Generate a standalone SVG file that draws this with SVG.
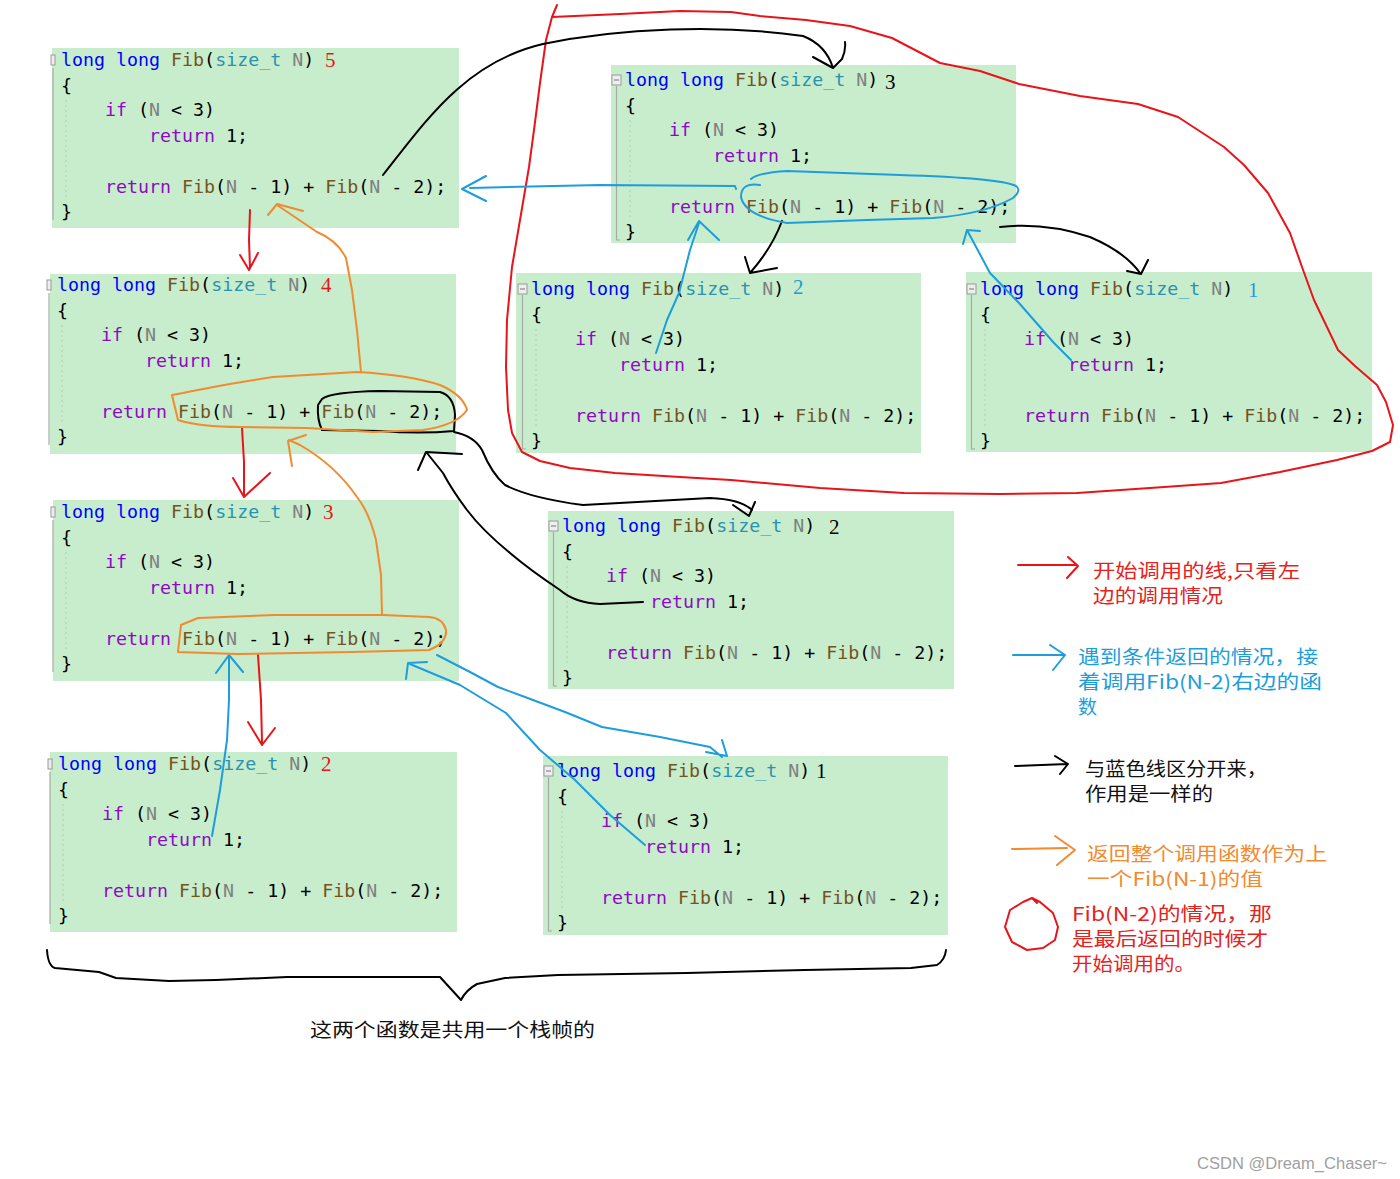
<svg xmlns="http://www.w3.org/2000/svg" xmlns:xlink="http://www.w3.org/1999/xlink" width="1400" height="1179" viewBox="0 0 1400 1179">
<style>
.box{fill:#c7edcc}
.code text{font-family:"DejaVu Sans Mono","Liberation Mono",monospace;font-size:18.3px;fill:#000;white-space:pre}
.kw{fill:#0000ff}.fn{fill:#74531f}.ty{fill:#2b91af}.pm{fill:#808080}.ct{fill:#8f08c4}
.num{font-family:"Liberation Serif",serif;font-size:21px}
.gut{stroke:#a8a8a8;stroke-width:1.2;fill:none}
.guide{stroke:#b8c8b8;stroke-width:1;stroke-dasharray:2 3;fill:none}
.fold{fill:#eeeeee;stroke:#9a9a9a;stroke-width:1}
.hd{fill:none;stroke-width:2;stroke-linecap:round;stroke-linejoin:round}
.r{stroke:#e8141a}.b{stroke:#1e9ddc}.k{stroke:#000}.o{stroke:#f28a30}
.lg{font-family:"Noto Sans CJK SC","Noto Sans",sans-serif;font-size:19px}
</style>
<defs>
<g id="code" class="code">
<text x="0" y="6"><tspan class="kw">long long</tspan> <tspan class="fn">Fib</tspan>(<tspan class="ty">size_t</tspan> <tspan class="pm">N</tspan>)</text>
<text x="0" y="31.5">{</text>
<text x="44" y="56"><tspan class="ct">if</tspan> (<tspan class="pm">N</tspan> &lt; 3)</text>
<text x="88" y="82"><tspan class="ct">return</tspan> 1;</text>
<text x="44" y="132.5"><tspan class="ct">return</tspan> <tspan class="fn">Fib</tspan>(<tspan class="pm">N</tspan> - 1) + <tspan class="fn">Fib</tspan>(<tspan class="pm">N</tspan> - 2);</text>
<text x="0" y="158">}</text>
<path class="guide" d="M5,40 V140"/>
</g>
<g id="gutter">
<rect class="fold" x="-13" y="-5" width="9" height="10"/>
<path d="M-11,0 H-6" stroke="#777" stroke-width="1"/>
<path class="gut" d="M-8.5,6 V160 H-5"/>
</g>
<g id="gutter2">
<rect class="fold" x="-10" y="-5" width="4" height="10"/>
<path class="gut" d="M-8,8 V160"/>
</g>
</defs>
<rect width="1400" height="1179" fill="#ffffff"/>

<g id="node-fib5">
<rect class="box" x="52" y="48" width="407" height="180"/>
<g transform="translate(61,60)"><use xlink:href="#gutter2"/><use xlink:href="#code"/><text class="num" x="264" y="7" fill="#e8141a">5</text></g>
</g>
<g id="node-fib4">
<rect class="box" x="50" y="274" width="406" height="180"/>
<g transform="translate(57,285)"><use xlink:href="#gutter2"/><use xlink:href="#code"/><text class="num" x="264" y="7" fill="#e8141a">4</text></g>
</g>
<g id="node-fib3-left">
<rect class="box" x="53" y="500" width="406" height="181"/>
<g transform="translate(61,512)"><use xlink:href="#gutter2"/><use xlink:href="#code"/><text class="num" x="262" y="7" fill="#e8141a">3</text></g>
</g>
<g id="node-fib2-left">
<rect class="box" x="50" y="752" width="407" height="180"/>
<g transform="translate(58,764)"><use xlink:href="#gutter2"/><use xlink:href="#code"/><text class="num" x="263" y="7" fill="#e8141a">2</text></g>
</g>
<g id="node-fib3-top">
<rect class="box" x="611" y="65" width="405" height="178"/>
<g transform="translate(625,80)"><use xlink:href="#gutter"/><use xlink:href="#code"/><text class="num" x="260" y="9" fill="#000">3</text></g>
</g>
<g id="node-fib2-top">
<rect class="box" x="516" y="273" width="405" height="180"/>
<g transform="translate(531,289)"><use xlink:href="#gutter"/><use xlink:href="#code"/><text class="num" x="262" y="5" fill="#1f9ad6">2</text></g>
</g>
<g id="node-fib1-top">
<rect class="box" x="966" y="272" width="406" height="180"/>
<g transform="translate(980,289)"><use xlink:href="#gutter"/><use xlink:href="#code"/><text class="num" x="268" y="8" fill="#1f9ad6">1</text></g>
</g>
<g id="node-fib2-mid">
<rect class="box" x="548" y="511" width="406" height="178"/>
<g transform="translate(562,526)"><use xlink:href="#gutter"/><use xlink:href="#code"/><text class="num" x="267" y="8" fill="#000">2</text></g>
</g>
<g id="node-fib1-bottom">
<rect class="box" x="543" y="756" width="405" height="179"/>
<g transform="translate(557,771)"><use xlink:href="#gutter"/><use xlink:href="#code"/><text class="num" x="259" y="7" fill="#000">1</text></g>
</g>

<g id="connectors">
<!-- red loop around the N-2 subtree -->
<path class="hd r" d="M557,5 L552,17 L546,40 L540,83 L534,130 L529,167 L520,220 L512,267 L507,320 L506,367 L508,410 L512,433 L522,452 L540,461 L570,468 L615,473 L680,477 L731,480 L820,488 L904,493 L1000,494 L1077,493 L1150,488 L1221,483 L1280,472 L1337,460 L1372,451 L1390,442 L1393,425 L1386,402 L1377,385 L1355,366 L1338,350 L1326,325 L1314,300 L1302,267 L1290,233 L1268,193 L1244,165 L1224,147 L1178,117 L1138,104 L1080,96 L1019,84 L980,71 L940,63 L892,38 L850,26 L806,20 L760,16 L731,12 L680,11 L620,14 L552,17"/>
<!-- red call arrows -->
<path class="hd r" d="M250,210 L249,240 L250,268 M240,255 L249,270 L258,253"/>
<path class="hd r" d="M242,428 L244,462 L244,495 M233,478 L244,497 L270,473"/>
<path class="hd r" d="M258,655 L261,700 L262,743 M248,722 L262,745 L275,728"/>
<!-- black arrows -->
<path class="hd k" d="M383,175 C425,122 465,62 543,44 C620,28 720,24 803,36 Q826,45 833,68 M813,57 L833,68 L842,59 Q846,50 845,42"/>
<path class="hd k" d="M782,221 Q772,248 750,273 M745,257 L750,273 L777,268"/>
<path class="hd k" d="M1000,227 Q1045,222 1090,237 Q1125,252 1140,273 M1127,271 L1141,274 L1148,260"/>
<path class="hd k" d="M322,399 Q330,392 380,391 L440,392 Q454,396 455,415 L454,431 Q420,434 380,431 L322,430 Q317,420 318,405 Z"/>
<path class="hd k" d="M454,432 Q474,436 482,450 Q492,474 505,485 Q530,498 583,505 Q640,502 710,498 Q740,499 752,510 M733,505 L749,516 L755,502"/>
<path class="hd k" d="M643,602 L600,604 Q575,603 560,590 Q530,570 510,553 Q482,530 467,510 Q452,490 443,473 L427,453 M418,470 L426,452 L462,454"/>
<path class="hd k" d="M47,950 Q48,966 55,968 L99,972 L116,978 L169,981 L216,980 L287,977 L440,977 L461,1000 Q466,990 477,984 L505,978 L558,975 L687,973 L805,970 L911,968 L937,965 Q945,960 946,950"/>
<!-- blue arrows -->
<path class="hd b" d="M760,185 Q741,182 741,197 Q745,216 787,223 L867,220 L933,218 Q985,214 1013,198 Q1022,190 1016,186 Q1000,178 900,175 L787,171 Q757,173 751,179"/>
<path class="hd b" d="M736,189 L735,186 L600,185 L470,188 M486,176 L462,189 L486,201"/>
<path class="hd b" d="M656,353 L667,320 L679,293 L690,250 L699,223 M688,240 L699,221 L719,240"/>
<path class="hd b" d="M1071,360 L1054,343 L1019,303 L990,273 L967,230 M963,244 L967,230 L980,231"/>
<path class="hd b" d="M212,836 L220,790 L227,740 L229,700 L229,657 M216,673 L229,655 L243,672"/>
<path class="hd b" d="M645,845 L610,815 L575,780 L540,750 L506,713 L460,685 L410,664 M406,679 L408,663 L427,662"/>
<path class="hd b" d="M437,655 L470,672 L498,687 L525,697 L565,712 L602,727 L660,737 L710,747 L722,757 M706,752 L727,756 L722,740"/>
<!-- orange -->
<path class="hd o" d="M172,395 L178,420 Q200,427 240,427 L307,428 L373,432 L423,430 Q457,425 467,410 Q463,395 440,385 Q410,375 357,372 L273,377 Q215,386 183,393 Z"/>
<path class="hd o" d="M361,372 L357,330 L352,290 L346,258 Q337,240 317,232 L277,205 M268,215 L277,204 L303,211"/>
<path class="hd o" d="M181,625 L178,652 L237,654 L352,652 L429,650 Q447,643 446,630 Q443,618 429,617 L383,615 L275,615 L198,618 Z"/>
<path class="hd o" d="M382,615 L381,575 L376,540 Q369,512 357,497 Q335,465 300,445 L289,440 M292,466 L288,441 L306,435"/>
<!-- legend markers -->
<path class="hd r" d="M1018,565 L1077,565 M1068,557 L1078,566 L1067,578"/>
<path class="hd b" d="M1013,655 L1063,655 M1050,645 L1065,655 L1053,670"/>
<path class="hd k" d="M1015,766 L1067,764 M1055,756 L1068,764 L1060,774"/>
<path class="hd o" d="M1012,849 L1067,848 M1055,836 L1075,850 L1057,865"/>
<path class="hd r" d="M1032,898 L1040,902 L1053,913 L1058,927 L1055,940 L1043,948 L1027,950 L1012,942 L1005,927 L1010,910 L1023,902 L1032,898 L1037,903"/>
</g>

<g id="legend">
<text class="lg" fill="#e5231d" x="1093" y="578" textLength="207" lengthAdjust="spacingAndGlyphs">开始调用的线,只看左</text>
<text class="lg" fill="#e5231d" x="1093" y="603" textLength="130" lengthAdjust="spacingAndGlyphs">边的调用情况</text>
<text class="lg" fill="#1e9ddc" x="1078" y="664" textLength="240" lengthAdjust="spacingAndGlyphs">遇到条件返回的情况，接</text>
<text class="lg" fill="#1e9ddc" x="1078" y="689" textLength="244" lengthAdjust="spacingAndGlyphs">着调用Fib(N-2)右边的函</text>
<text class="lg" fill="#1e9ddc" x="1078" y="714">数</text>
<text class="lg" fill="#111" x="1085" y="776" textLength="182" lengthAdjust="spacingAndGlyphs">与蓝色线区分开来，</text>
<text class="lg" fill="#111" x="1085" y="801" textLength="128" lengthAdjust="spacingAndGlyphs">作用是一样的</text>
<text class="lg" fill="#f28a30" x="1087" y="861" textLength="240" lengthAdjust="spacingAndGlyphs">返回整个调用函数作为上</text>
<text class="lg" fill="#f28a30" x="1087" y="886" textLength="176" lengthAdjust="spacingAndGlyphs">一个Fib(N-1)的值</text>
<text class="lg" fill="#e5231d" x="1072" y="921" textLength="200" lengthAdjust="spacingAndGlyphs">Fib(N-2)的情况，那</text>
<text class="lg" fill="#e5231d" x="1072" y="946" textLength="196" lengthAdjust="spacingAndGlyphs">是最后返回的时候才</text>
<text class="lg" fill="#e5231d" x="1072" y="971" textLength="123" lengthAdjust="spacingAndGlyphs">开始调用的。</text>
<text class="lg" fill="#111" x="310" y="1037" textLength="285" lengthAdjust="spacingAndGlyphs">这两个函数是共用一个栈帧的</text>
<text x="1197" y="1169" font-family="'Liberation Sans',Arial,sans-serif" font-size="16" fill="#a0a0a0" textLength="190" lengthAdjust="spacingAndGlyphs">CSDN @Dream_Chaser~</text>
</g>
</svg>
